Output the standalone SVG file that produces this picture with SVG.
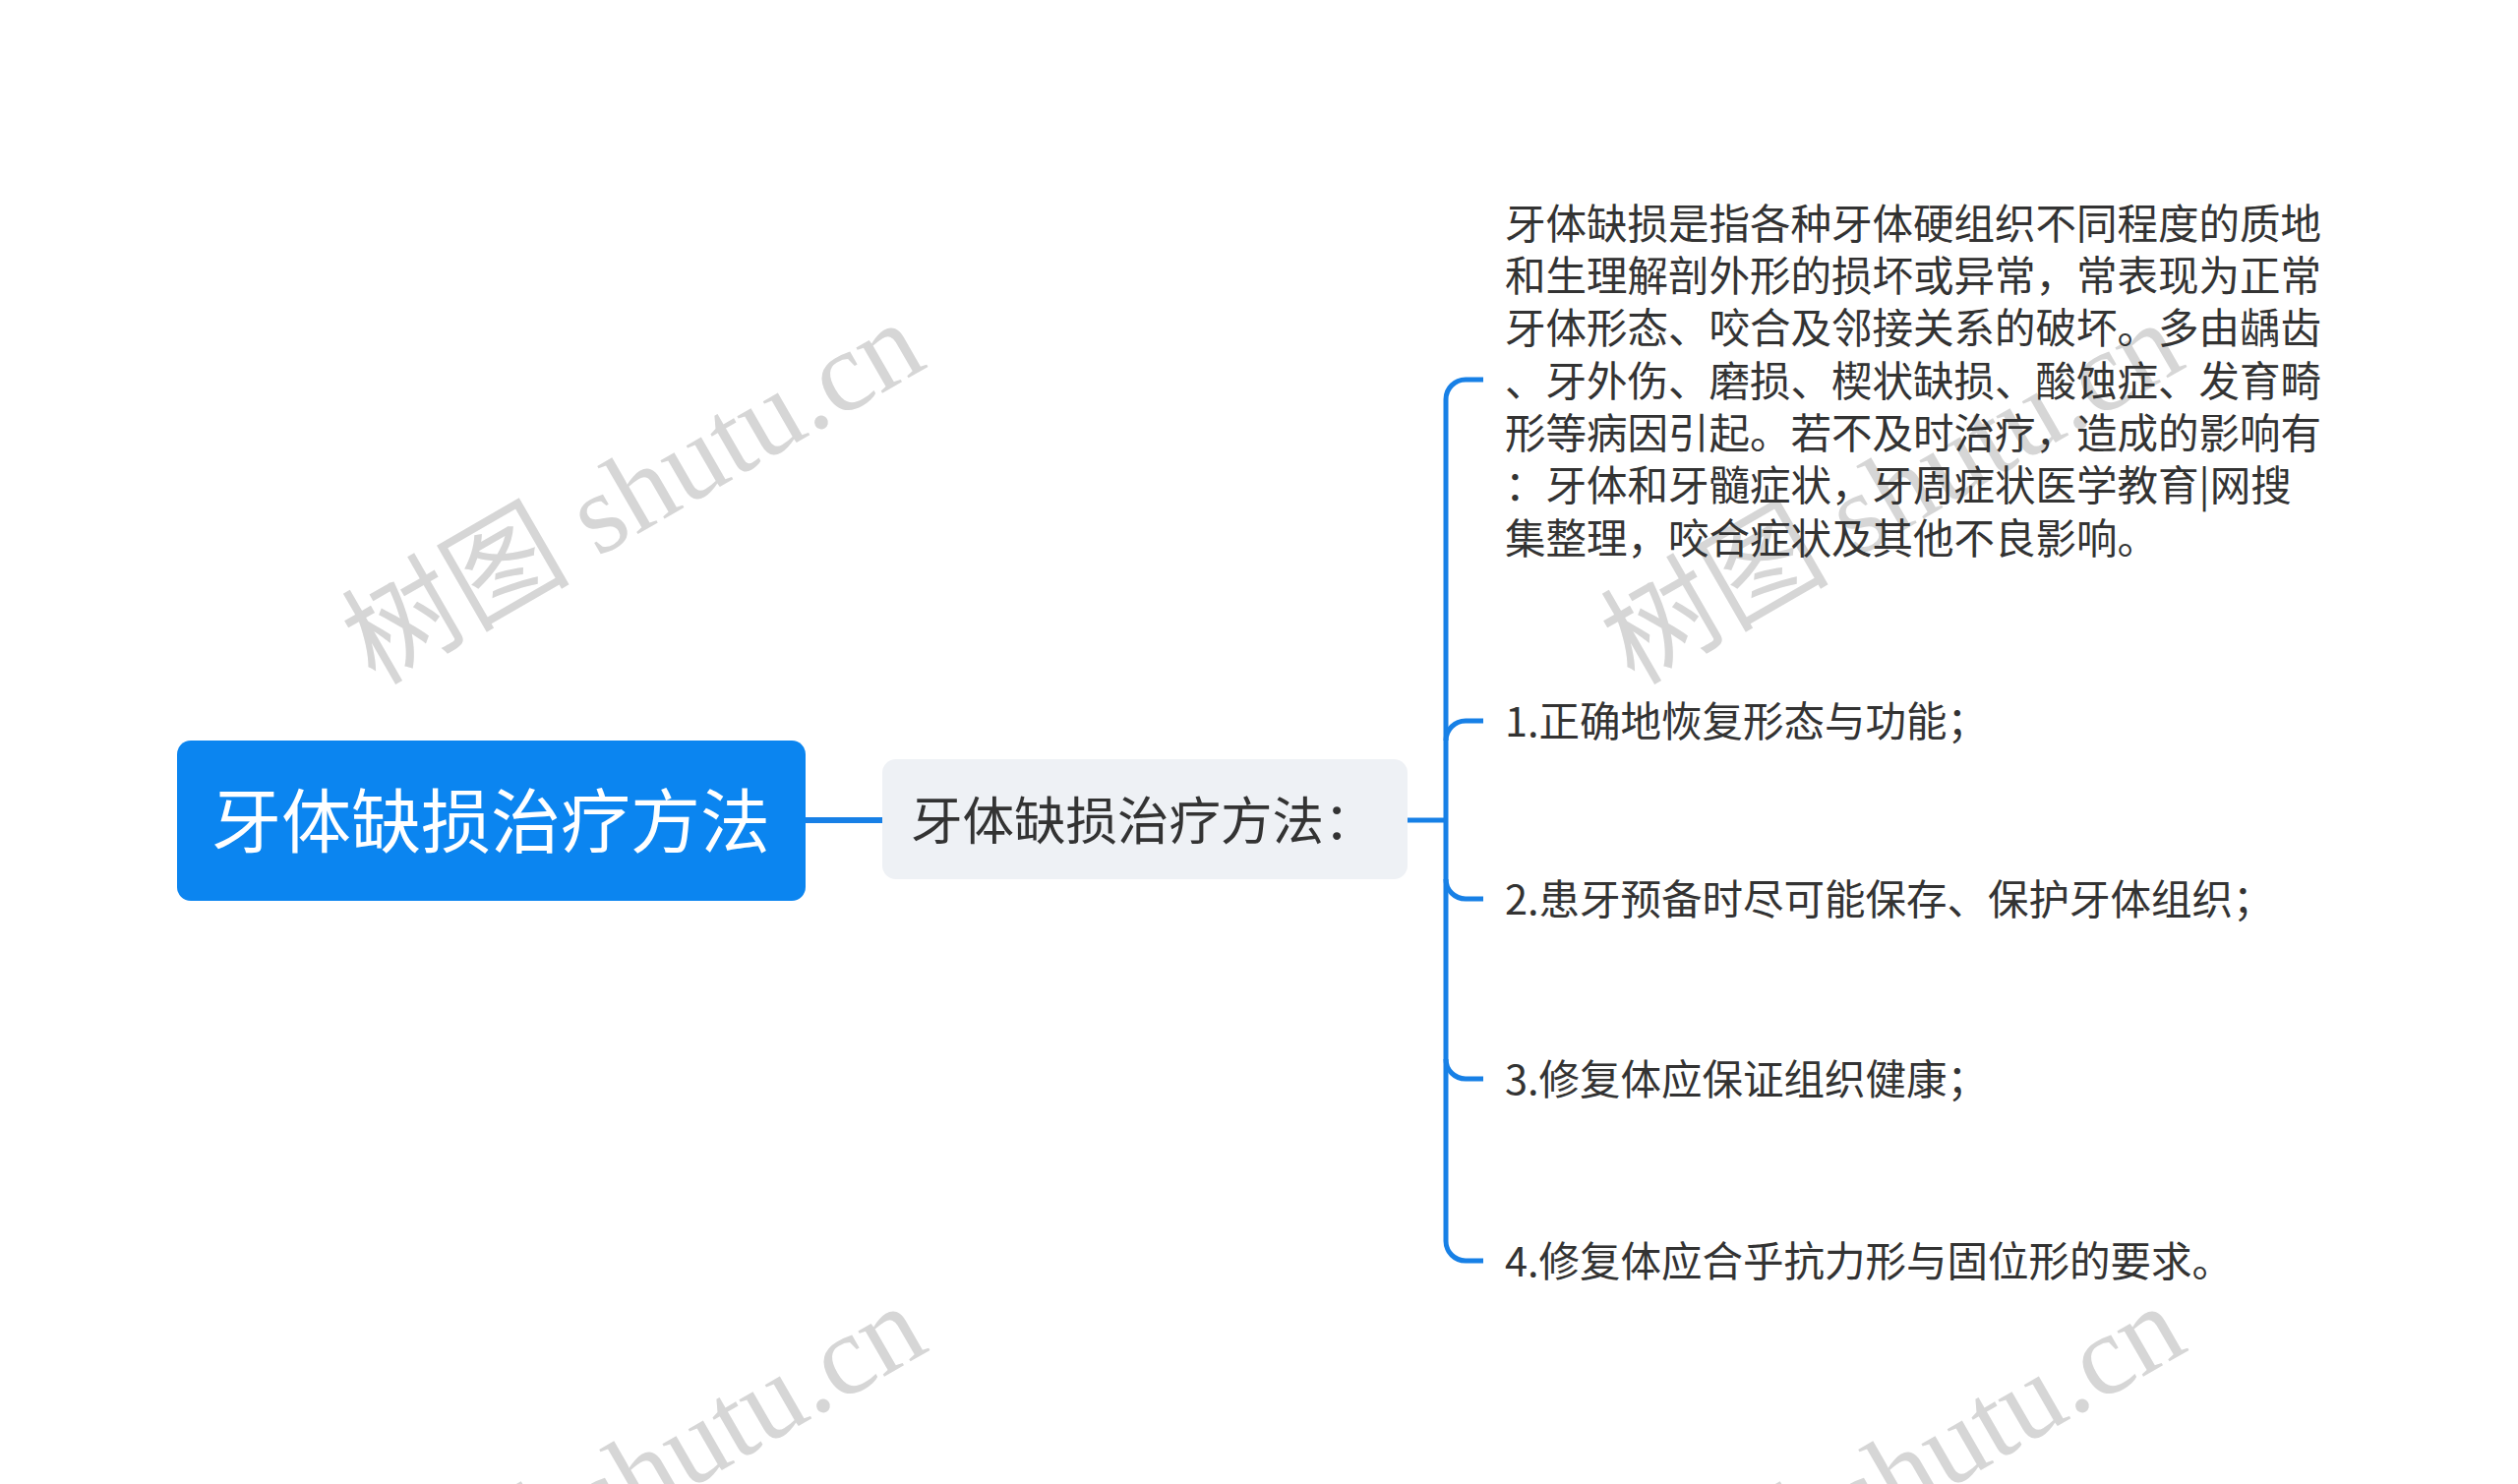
<svg xmlns="http://www.w3.org/2000/svg" width="2560" height="1509" viewBox="0 0 2560 1509">
<defs>
<style>
.wm{font-family:"Liberation Serif","Noto Sans CJK SC",serif;font-size:116px;fill:#d6d6d6;text-anchor:end}
.con{fill:none;stroke:#1780E6;stroke-width:5;stroke-linecap:butt}
.leaf{font-family:"Noto Sans CJK SC","Liberation Sans",sans-serif;font-size:41.5px;fill:#333333}
</style>
</defs>
<rect width="2560" height="1509" fill="#ffffff"/>
<g id="watermarks">
<text class="wm" transform="translate(945,372) rotate(-30)">树图 shutu.cn</text>
<text class="wm" transform="translate(2225,372) rotate(-30)">树图 shutu.cn</text>
<text class="wm" transform="translate(947,1372) rotate(-30)">树图 shutu.cn</text>
<text class="wm" transform="translate(2227,1372) rotate(-30)">树图 shutu.cn</text>
</g>
<g id="connectors">
<path class="con" d="M818 834 H897" style="stroke-width:6"/>
<path class="con" d="M1431 834 H1470"/>
<path class="con" d="M1470 406 V1262"/>
<path class="con" d="M1470 406 A20 20 0 0 1 1490 386 H1508"/>
<path class="con" d="M1470 753 A20 20 0 0 1 1490 733 H1508"/>
<path class="con" d="M1470 894 A20 20 0 0 0 1490 914 H1508"/>
<path class="con" d="M1470 1077 A20 20 0 0 0 1490 1097 H1508"/>
<path class="con" d="M1470 1262 A20 20 0 0 0 1490 1282 H1508"/>
</g>
<g id="root">
<rect x="180" y="753" width="639" height="163" rx="14" fill="#0B85F0"/>
<text x="499" y="861" text-anchor="middle" font-family="Noto Sans CJK SC, Liberation Sans, sans-serif" font-size="71" fill="#ffffff">牙体缺损治疗方法</text>
</g>
<g id="method">
<rect x="897" y="772" width="534" height="122" rx="14" fill="#EEF1F5"/>
<text x="926" y="854" font-family="Noto Sans CJK SC, Liberation Sans, sans-serif" font-size="52.5" fill="#333333">牙体缺损治疗方法：</text>
</g>
<g id="definition">
<text class="leaf" x="1530" y="243">牙体缺损是指各种牙体硬组织不同程度的质地</text>
<text class="leaf" x="1530" y="296">和生理解剖外形的损坏或异常，常表现为正常</text>
<text class="leaf" x="1530" y="349">牙体形态、咬合及邻接关系的破坏。多由龋齿</text>
<text class="leaf" x="1530" y="403">、牙外伤、磨损、楔状缺损、酸蚀症、发育畸</text>
<text class="leaf" x="1530" y="456">形等病因引起。若不及时治疗，造成的影响有</text>
<text class="leaf" x="1530" y="509">：牙体和牙髓症状，牙周症状医学教育|网搜</text>
<text class="leaf" x="1530" y="563">集整理，咬合症状及其他不良影响。</text>
</g>
<g id="item1"><text class="leaf" x="1530" y="749">1.正确地恢复形态与功能；</text></g>
<g id="item2"><text class="leaf" x="1530" y="930">2.患牙预备时尽可能保存、保护牙体组织；</text></g>
<g id="item3"><text class="leaf" x="1530" y="1113">3.修复体应保证组织健康；</text></g>
<g id="item4"><text class="leaf" x="1530" y="1298">4.修复体应合乎抗力形与固位形的要求。</text></g>
</svg>
